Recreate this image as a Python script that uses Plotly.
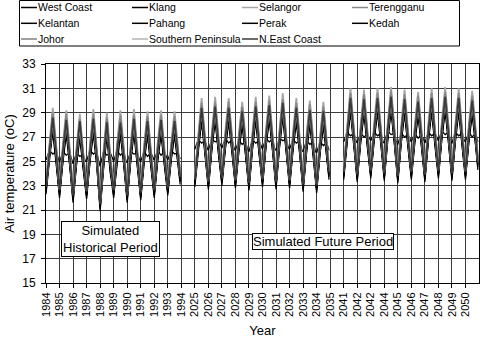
import plotly.graph_objects as go

# ---------------- data ----------------
YEAR_LABELS = ["1984", "1985", "1986", "1987", "1988", "1989", "1990", "1991", "1992", "1993", "1994",
               "2025", "2026", "2027", "2028", "2029", "2030", "2031", "2032", "2033", "2034", "2035",
               "2041", "2042", "2042", "2044", "2045", "2046", "2047", "2048", "2049", "2050"]
SEGMENT_FIRST_YEAR = ["1984", "2025", "2041"]
YEARS_PER_SEGMENT = 10
SAMPLE_MONTHS = [0, 3, 6, 9, 11]  # Jan, Apr, Jul, Oct, Dec

SERIES_NAMES = ["West Coast", "Klang", "Selangor", "Terengganu", "Kelantan", "Pahang",
                "Perak", "Kedah", "Johor", "Southern Peninsula", "N.East Coast"]
SERIES_COLORS = ["#000000", "#000000", "#a6a6a6", "#8a8a8a", "#000000", "#000000",
                 "#000000", "#000000", "#808080", "#b4b4b4", "#3a3a3a"]

WEST_COAST = [
    22.6, 25.7, 28.1, 25.4, 23.2, 22.3, 25.4, 27.9, 25.1, 22.8,
    21.9, 25.1, 27.6, 24.8, 23.1, 22.2, 25.4, 28.0, 25.1, 22.1,
    21.2, 24.8, 27.7, 24.5, 23.2, 22.3, 25.4, 27.9, 25.1, 22.8,
    21.9, 25.3, 28.0, 25.0, 23.0, 22.1, 25.3, 27.8, 25.0, 23.2,
    22.3, 25.4, 27.9, 25.1, 23.4, 22.5, 25.5, 27.8, 25.2, 23.4,
    23.2, 26.4, 28.9, 26.1, 23.9, 23.0, 26.3, 29.0, 26.0, 24.2,
    23.3, 26.4, 28.9, 26.1, 24.0, 23.1, 26.2, 28.6, 25.9, 23.8,
    22.9, 26.3, 29.0, 26.0, 24.1, 23.2, 26.5, 29.1, 26.2, 23.9,
    23.0, 26.5, 29.3, 26.2, 24.0, 23.1, 26.3, 28.9, 26.0, 23.7,
    22.8, 26.1, 28.7, 25.8, 23.6, 22.7, 26.0, 28.6, 25.7, 23.8,
    23.8, 27.1, 29.7, 26.8, 24.5, 23.6, 26.9, 29.6, 26.6, 24.8,
    23.9, 27.1, 29.7, 26.8, 24.6, 23.7, 27.1, 29.8, 26.8, 24.4,
    23.5, 26.9, 29.6, 26.6, 24.7, 23.8, 26.9, 29.4, 26.6, 24.5,
    23.6, 27.0, 29.7, 26.7, 24.8, 23.9, 27.2, 29.8, 26.9, 24.6,
    23.7, 27.0, 29.7, 26.7, 24.7, 23.8, 27.0, 29.5, 26.7, 24.6,
]
KLANG = [
    22.3, 25.3, 27.7, 25.0, 22.9, 22.0, 25.0, 27.5, 24.7, 22.5,
    21.6, 24.7, 27.2, 24.4, 22.8, 21.9, 25.0, 27.6, 24.7, 21.8,
    20.9, 24.4, 27.3, 24.1, 22.9, 22.0, 25.0, 27.5, 24.7, 22.5,
    21.6, 24.9, 27.6, 24.6, 22.7, 21.8, 24.9, 27.4, 24.6, 22.9,
    22.0, 25.0, 27.5, 24.7, 23.1, 22.2, 25.1, 27.4, 24.8, 23.1,
    22.9, 26.0, 28.5, 25.7, 23.6, 22.7, 25.9, 28.6, 25.6, 23.9,
    23.0, 26.0, 28.5, 25.7, 23.7, 22.8, 25.8, 28.2, 25.5, 23.5,
    22.6, 25.9, 28.6, 25.6, 23.8, 22.9, 26.1, 28.7, 25.8, 23.6,
    22.7, 26.1, 28.9, 25.8, 23.7, 22.8, 25.9, 28.5, 25.6, 23.4,
    22.5, 25.7, 28.3, 25.4, 23.3, 22.4, 25.6, 28.2, 25.3, 23.5,
    23.5, 26.7, 29.3, 26.4, 24.2, 23.3, 26.5, 29.2, 26.2, 24.5,
    23.6, 26.7, 29.3, 26.4, 24.3, 23.4, 26.7, 29.4, 26.4, 24.1,
    23.2, 26.5, 29.2, 26.2, 24.4, 23.5, 26.5, 29.0, 26.2, 24.2,
    23.3, 26.6, 29.3, 26.3, 24.5, 23.6, 26.8, 29.4, 26.5, 24.3,
    23.4, 26.6, 29.3, 26.3, 24.4, 23.5, 26.6, 29.1, 26.3, 24.3,
]
SELANGOR = [
    23.3, 26.7, 29.4, 26.4, 23.9, 23.0, 26.4, 29.2, 26.1, 23.5,
    22.6, 26.1, 28.9, 25.8, 23.8, 22.9, 26.4, 29.3, 26.1, 22.8,
    21.9, 25.8, 29.0, 25.5, 23.9, 23.0, 26.4, 29.2, 26.1, 23.5,
    22.6, 26.3, 29.3, 26.0, 23.7, 22.8, 26.3, 29.1, 26.0, 23.9,
    23.0, 26.4, 29.2, 26.1, 24.1, 23.2, 26.5, 29.1, 26.2, 24.1,
    23.9, 27.4, 30.2, 27.1, 24.6, 23.7, 27.3, 30.3, 27.0, 24.9,
    24.0, 27.4, 30.2, 27.1, 24.7, 23.8, 27.2, 29.9, 26.9, 24.5,
    23.6, 27.3, 30.3, 27.0, 24.8, 23.9, 27.5, 30.4, 27.2, 24.6,
    23.7, 27.5, 30.6, 27.2, 24.7, 23.8, 27.3, 30.2, 27.0, 24.4,
    23.5, 27.1, 30.0, 26.8, 24.3, 23.4, 27.0, 29.9, 26.7, 24.5,
    24.5, 28.1, 31.0, 27.8, 25.2, 24.3, 27.9, 30.9, 27.6, 25.5,
    24.6, 28.1, 31.0, 27.8, 25.3, 24.4, 28.1, 31.1, 27.8, 25.1,
    24.2, 27.9, 30.9, 27.6, 25.4, 24.5, 27.9, 30.7, 27.6, 25.2,
    24.3, 28.0, 31.0, 27.7, 25.5, 24.6, 28.2, 31.1, 27.9, 25.3,
    24.4, 28.0, 31.0, 27.7, 25.4, 24.5, 28.0, 30.8, 27.7, 25.3,
]
TERENGGANU = [
    23.1, 26.4, 29.0, 26.1, 23.7, 22.8, 26.1, 28.9, 25.8, 23.3,
    22.4, 25.8, 28.5, 25.5, 23.6, 22.7, 26.1, 28.9, 25.8, 22.6,
    21.9, 25.5, 28.6, 25.2, 23.7, 22.8, 26.1, 28.8, 25.8, 23.3,
    22.4, 26.0, 28.8, 25.7, 23.5, 22.6, 26.0, 28.7, 25.7, 23.7,
    22.8, 26.3, 28.8, 25.8, 23.9, 23.0, 26.2, 28.7, 25.9, 23.9,
    23.7, 27.1, 29.8, 26.8, 24.4, 23.5, 27.0, 29.9, 26.7, 24.7,
    23.8, 27.1, 29.9, 26.8, 24.5, 23.6, 26.9, 29.5, 26.6, 24.3,
    23.4, 27.0, 29.9, 26.7, 24.6, 23.7, 27.2, 30.0, 26.9, 24.4,
    23.5, 27.2, 30.1, 26.9, 24.5, 23.6, 27.0, 29.8, 26.7, 24.2,
    23.3, 26.8, 29.7, 26.5, 24.1, 23.2, 26.7, 29.5, 26.4, 24.3,
    24.3, 27.8, 30.6, 27.5, 25.0, 24.1, 27.6, 30.5, 27.3, 25.3,
    24.4, 27.8, 30.6, 27.5, 25.1, 24.2, 27.8, 30.8, 27.5, 24.9,
    24.0, 27.6, 30.5, 27.3, 25.2, 24.3, 27.6, 30.4, 27.3, 25.0,
    24.1, 27.7, 30.6, 27.4, 25.3, 24.4, 27.9, 30.7, 27.6, 25.1,
    24.2, 27.7, 30.6, 27.4, 25.2, 24.3, 27.7, 30.4, 27.4, 25.1,
]
KELANTAN = [
    22.8, 26.0, 28.2, 25.7, 23.4, 22.5, 25.7, 28.0, 25.4, 23.0,
    22.1, 25.4, 27.7, 25.1, 23.3, 22.4, 25.7, 28.1, 25.4, 22.3,
    21.4, 25.1, 27.8, 24.8, 23.4, 22.5, 25.7, 28.0, 25.4, 23.0,
    22.1, 25.6, 28.1, 25.3, 23.2, 22.3, 25.6, 27.9, 25.3, 23.4,
    22.5, 25.7, 28.0, 25.4, 23.6, 22.7, 25.8, 27.9, 25.5, 23.6,
    23.4, 26.7, 29.0, 26.4, 24.1, 23.2, 26.6, 29.1, 26.3, 24.4,
    23.5, 26.7, 29.0, 26.4, 24.2, 23.3, 26.5, 28.7, 26.2, 24.0,
    23.1, 26.6, 29.1, 26.3, 24.3, 23.4, 26.8, 29.2, 26.5, 24.1,
    23.2, 26.8, 29.4, 26.5, 24.2, 23.3, 26.6, 29.0, 26.3, 23.9,
    23.0, 26.4, 28.8, 26.1, 23.8, 22.9, 26.3, 28.7, 26.0, 24.0,
    24.0, 27.4, 29.8, 27.1, 24.7, 23.8, 27.2, 29.7, 26.9, 25.0,
    24.1, 27.4, 29.8, 27.1, 24.8, 23.9, 27.4, 29.9, 27.1, 24.6,
    23.7, 27.2, 29.7, 26.9, 24.9, 24.0, 27.2, 29.5, 26.9, 24.7,
    23.8, 27.3, 29.8, 27.0, 25.0, 24.1, 27.5, 29.9, 27.2, 24.8,
    23.9, 27.3, 29.8, 27.0, 24.9, 24.0, 27.3, 29.6, 27.0, 24.8,
]
PAHANG = [
    22.5, 25.3, 27.4, 25.0, 23.1, 22.2, 25.0, 27.2, 24.7, 22.7,
    21.8, 24.7, 26.9, 24.4, 23.0, 22.1, 25.0, 27.3, 24.7, 22.0,
    21.1, 24.4, 27.0, 24.1, 23.1, 22.2, 25.0, 27.2, 24.7, 22.7,
    21.8, 24.9, 27.3, 24.6, 22.9, 22.0, 24.9, 27.1, 24.6, 23.1,
    22.2, 25.0, 27.2, 24.7, 23.3, 22.4, 25.1, 27.1, 24.8, 23.3,
    23.1, 26.0, 28.2, 25.7, 23.8, 22.9, 25.9, 28.3, 25.6, 24.1,
    23.2, 26.0, 28.2, 25.7, 23.9, 23.0, 25.8, 27.9, 25.5, 23.7,
    22.8, 25.9, 28.3, 25.6, 24.0, 23.1, 26.1, 28.4, 25.8, 23.8,
    22.9, 26.1, 28.6, 25.8, 23.9, 23.0, 25.9, 28.2, 25.6, 23.6,
    22.7, 25.7, 28.0, 25.4, 23.5, 22.6, 25.6, 27.9, 25.3, 23.7,
    23.7, 26.7, 29.0, 26.4, 24.4, 23.5, 26.5, 28.9, 26.2, 24.7,
    23.8, 26.7, 29.0, 26.4, 24.5, 23.6, 26.7, 29.1, 26.4, 24.3,
    23.4, 26.5, 28.9, 26.2, 24.6, 23.7, 26.5, 28.7, 26.2, 24.4,
    23.5, 26.6, 29.0, 26.3, 24.7, 23.8, 26.8, 29.1, 26.5, 24.5,
    23.6, 26.6, 29.0, 26.3, 24.6, 23.7, 26.6, 28.8, 26.3, 24.5,
]
PERAK = [
    22.7, 25.6, 27.9, 25.3, 23.3, 22.4, 25.4, 27.7, 25.1, 22.9,
    22.0, 25.0, 27.4, 24.7, 23.2, 22.3, 25.4, 27.8, 25.1, 22.2,
    21.3, 24.8, 27.5, 24.5, 23.3, 22.4, 25.4, 27.7, 25.1, 22.9,
    22.0, 25.3, 27.8, 25.0, 23.1, 22.2, 25.3, 27.6, 25.0, 23.3,
    22.4, 25.4, 27.7, 25.1, 23.5, 22.6, 25.5, 27.6, 25.2, 23.5,
    23.3, 26.4, 28.7, 26.1, 24.0, 23.1, 26.3, 28.8, 26.0, 24.3,
    23.4, 26.4, 28.7, 26.1, 24.1, 23.2, 26.2, 28.4, 25.9, 23.9,
    23.0, 26.3, 28.8, 26.0, 24.2, 23.3, 26.5, 28.9, 26.2, 24.0,
    23.1, 26.5, 29.1, 26.2, 24.1, 23.2, 26.3, 28.7, 26.0, 23.8,
    22.9, 26.1, 28.5, 25.8, 23.7, 22.8, 26.0, 28.4, 25.7, 23.9,
    23.9, 27.1, 29.5, 26.8, 24.6, 23.7, 26.9, 29.4, 26.6, 24.9,
    24.0, 27.1, 29.5, 26.8, 24.7, 23.8, 27.1, 29.6, 26.8, 24.5,
    23.6, 26.9, 29.4, 26.6, 24.8, 23.9, 26.9, 29.2, 26.6, 24.6,
    23.7, 27.0, 29.5, 26.7, 24.9, 24.0, 27.2, 29.6, 26.9, 24.7,
    23.8, 27.0, 29.5, 26.7, 24.8, 23.9, 27.0, 29.3, 26.7, 24.7,
]
KEDAH = [
    25.1, 25.9, 25.6, 25.8, 25.2, 24.9, 25.8, 25.5, 25.7, 25.1,
    24.8, 25.7, 25.4, 25.6, 25.0, 25.0, 25.9, 25.6, 25.8, 24.9,
    24.6, 25.8, 25.5, 25.7, 25.1, 25.0, 25.9, 25.5, 25.8, 25.0,
    24.9, 25.8, 25.6, 25.7, 25.1, 25.0, 25.8, 25.4, 25.7, 25.2,
    25.1, 25.9, 25.5, 25.8, 25.2, 25.1, 25.9, 25.6, 25.7, 25.2,
    26.0, 26.8, 26.5, 26.7, 26.1, 25.9, 26.8, 26.6, 26.7, 26.2,
    26.1, 26.9, 26.5, 26.8, 26.0, 25.9, 26.7, 26.4, 26.6, 25.9,
    25.8, 26.8, 26.5, 26.7, 26.1, 26.0, 26.9, 26.6, 26.8, 26.0,
    25.9, 26.9, 26.7, 26.8, 26.1, 26.0, 26.8, 26.5, 26.7, 25.9,
    25.8, 26.7, 26.4, 26.6, 25.8, 25.7, 26.6, 26.3, 26.5, 25.9,
    26.6, 27.4, 27.1, 27.3, 26.7, 26.5, 27.3, 27.0, 27.2, 26.8,
    26.7, 27.4, 27.1, 27.3, 26.6, 26.5, 27.5, 27.2, 27.3, 26.5,
    26.4, 27.3, 27.0, 27.2, 26.7, 26.6, 27.3, 26.9, 27.2, 26.6,
    26.5, 27.4, 27.1, 27.3, 26.8, 26.7, 27.5, 27.2, 27.4, 26.6,
    26.5, 27.4, 27.1, 27.3, 26.7, 26.6, 27.4, 27.0, 27.3, 26.6,
]
JOHOR = [
    23.2, 26.3, 28.8, 26.0, 23.8, 22.9, 26.0, 28.5, 25.7, 23.4,
    22.5, 25.7, 28.2, 25.4, 23.7, 22.8, 26.0, 28.6, 25.7, 22.7,
    21.8, 25.4, 28.4, 25.1, 23.8, 22.9, 26.0, 28.5, 25.7, 23.4,
    22.5, 25.9, 28.6, 25.6, 23.6, 22.7, 25.9, 28.6, 25.6, 23.8,
    22.9, 26.0, 28.5, 25.7, 24.0, 23.1, 26.1, 28.4, 25.8, 24.0,
    23.8, 27.0, 29.5, 26.7, 24.5, 23.6, 26.9, 29.6, 26.6, 24.8,
    23.9, 27.0, 29.5, 26.7, 24.6, 23.7, 26.8, 29.4, 26.5, 24.4,
    23.5, 26.9, 29.6, 26.6, 24.7, 23.8, 27.1, 29.7, 26.8, 24.5,
    23.6, 27.1, 29.9, 26.8, 24.6, 23.7, 26.9, 29.5, 26.6, 24.3,
    23.4, 26.7, 29.3, 26.4, 24.2, 23.3, 26.6, 29.3, 26.3, 24.4,
    24.4, 27.7, 30.3, 27.4, 25.1, 24.2, 27.5, 30.4, 27.2, 25.4,
    24.5, 27.7, 30.3, 27.4, 25.2, 24.3, 27.7, 30.4, 27.4, 25.0,
    24.1, 27.5, 30.2, 27.2, 25.3, 24.4, 27.5, 30.0, 27.2, 25.1,
    24.2, 27.6, 30.2, 27.3, 25.4, 24.5, 27.8, 30.4, 27.5, 25.2,
    24.3, 27.6, 30.3, 27.3, 25.3, 24.4, 27.6, 30.1, 27.3, 25.2,
]
SOUTHERN_PENINSULA = [
    23.0, 26.0, 28.4, 25.8, 23.6, 22.7, 25.8, 28.2, 25.5, 23.2,
    22.3, 25.5, 27.9, 25.2, 23.5, 22.6, 25.8, 28.3, 25.5, 22.5,
    21.6, 25.2, 28.0, 24.9, 23.6, 22.7, 25.8, 28.2, 25.5, 23.2,
    22.3, 25.7, 28.3, 25.4, 23.4, 22.5, 25.7, 28.1, 25.4, 23.6,
    22.7, 25.8, 28.2, 25.5, 23.8, 22.9, 25.9, 28.1, 25.6, 23.8,
    23.6, 26.8, 29.2, 26.5, 24.3, 23.4, 26.7, 29.3, 26.4, 24.6,
    23.7, 26.8, 29.2, 26.5, 24.4, 23.5, 26.6, 28.9, 26.3, 24.2,
    23.3, 26.7, 29.3, 26.4, 24.5, 23.6, 26.9, 29.4, 26.6, 24.3,
    23.4, 26.9, 29.6, 26.6, 24.4, 23.5, 26.7, 29.2, 26.4, 24.1,
    23.2, 26.5, 29.0, 26.2, 24.0, 23.1, 26.4, 28.9, 26.1, 24.2,
    24.2, 27.5, 30.0, 27.2, 24.9, 24.0, 27.3, 29.9, 27.0, 25.2,
    24.3, 27.5, 30.0, 27.2, 25.0, 24.1, 27.5, 30.1, 27.2, 24.8,
    23.9, 27.3, 29.9, 27.0, 25.1, 24.2, 27.3, 29.7, 27.0, 24.9,
    24.0, 27.4, 30.0, 27.1, 25.2, 24.3, 27.6, 30.1, 27.3, 25.0,
    24.1, 27.4, 30.0, 27.1, 25.1, 24.2, 27.4, 29.8, 27.1, 25.0,
]
NEAST_COAST = [
    22.9, 26.1, 28.6, 25.8, 23.5, 22.6, 25.8, 28.4, 25.5, 23.1,
    22.2, 25.5, 28.3, 25.2, 23.4, 22.5, 25.8, 28.5, 25.5, 22.4,
    21.5, 25.2, 28.2, 24.9, 23.5, 22.6, 25.8, 28.2, 25.5, 23.1,
    22.2, 25.7, 28.5, 25.4, 23.3, 22.4, 25.7, 28.3, 25.4, 23.5,
    22.6, 25.8, 28.4, 25.5, 23.7, 22.8, 25.9, 28.3, 25.6, 23.7,
    23.5, 26.8, 29.4, 26.5, 24.2, 23.3, 26.7, 29.5, 26.4, 24.5,
    23.6, 26.8, 29.4, 26.5, 24.3, 23.4, 26.6, 29.1, 26.3, 24.1,
    23.2, 26.7, 29.5, 26.4, 24.4, 23.5, 26.9, 29.6, 26.6, 24.2,
    23.3, 26.9, 29.8, 26.6, 24.3, 23.4, 26.7, 29.4, 26.4, 24.0,
    23.1, 26.5, 29.2, 26.2, 23.9, 23.0, 26.4, 29.1, 26.1, 24.1,
    24.1, 27.5, 30.2, 27.2, 24.8, 23.9, 27.3, 30.1, 27.0, 25.1,
    24.2, 27.5, 30.2, 27.2, 24.9, 24.0, 27.5, 30.3, 27.2, 24.7,
    23.8, 27.3, 30.1, 27.0, 25.0, 24.1, 27.3, 29.9, 27.0, 24.8,
    23.9, 27.4, 30.2, 27.1, 25.1, 24.2, 27.6, 30.3, 27.3, 24.9,
    24.0, 27.4, 30.2, 27.1, 25.0, 24.1, 27.4, 30.0, 27.1, 24.9,
]

SERIES_VALUES = [WEST_COAST, KLANG, SELANGOR, TERENGGANU, KELANTAN, PAHANG,
                 PERAK, KEDAH, JOHOR, SOUTHERN_PENINSULA, NEAST_COAST]

Y_TICKS = [15, 17, 19, 21, 23, 25, 27, 29, 31, 33]

# ---------------- geometry helpers ----------------
W, H = 480, 338
ML, MR, MT, MB = 46, 1, 64, 55
PW, PH = W - ML - MR, H - MT - MB
FONT = "Liberation Sans, Arial, sans-serif"


def px(xpix):
    return (xpix - ML) / PW


def py(ypix):
    return (H - MB - ypix) / PH


seg_starts = [YEAR_LABELS.index(y) for y in SEGMENT_FIRST_YEAR]
n_per_year = len(SAMPLE_MONTHS)

fig = go.Figure()
# draw dark series first so the grey ones form the outer band, as in the original
order = sorted(range(len(SERIES_NAMES)), key=lambda i: SERIES_COLORS[i] != "#000000")
for i in order:
    name, color, vals = SERIES_NAMES[i], SERIES_COLORS[i], SERIES_VALUES[i]
    xs, ys = [], []
    for s, start in enumerate(seg_starts):
        for j in range(YEARS_PER_SEGMENT):
            for q, m in enumerate(SAMPLE_MONTHS):
                k = (s * YEARS_PER_SEGMENT + j) * n_per_year + q
                xs.append(start + j + m / 12.0)
                ys.append(vals[k])
        xs.append(None)
        ys.append(None)
    width = 1.3 if color == "#000000" else 1.8
    fig.add_trace(go.Scatter(x=xs, y=ys, mode="lines", name=name,
                             line=dict(color=color, width=width),
                             showlegend=False, hoverinfo="skip"))

grid = "#3c3c3c"
fig.update_layout(
    template="none",
    width=W, height=H,
    margin=dict(l=ML, r=MR, t=MT, b=MB, pad=0, autoexpand=False),
    paper_bgcolor="white", plot_bgcolor="white",
    font=dict(family=FONT, color="black", size=12),
    showlegend=False,
    xaxis=dict(range=[0, len(YEAR_LABELS)],
               tickmode="array", tickvals=list(range(len(YEAR_LABELS))), ticktext=YEAR_LABELS,
               tickangle=-90, tickfont=dict(size=11),
               showgrid=True, gridcolor=grid, gridwidth=1, layer="below traces",
               showline=True, linecolor="black", linewidth=1, mirror=True,
               ticks="outside", ticklen=4, tickcolor="black",
               zeroline=False, automargin=False,
               title=dict(text="Year", font=dict(size=13), standoff=12)),
    yaxis=dict(range=[15, 33], tickmode="array", tickvals=Y_TICKS,
               tickfont=dict(size=12), ticklabelstandoff=3,
               showgrid=True, gridcolor=grid, gridwidth=1, layer="below traces",
               showline=True, linecolor="black", linewidth=1, mirror=True,
               ticks="outside", ticklen=4, tickcolor="black",
               zeroline=False, automargin=False,
               title=dict(text="Air temperature (oC)", font=dict(size=13), standoff=4)),
)

# period labels
fig.add_annotation(x=4.76, y=18.58, xref="x", yref="y", text="Simulated<br>Historical Period",
                   showarrow=False, font=dict(size=13), bgcolor="white",
                   bordercolor="black", borderwidth=1, borderpad=1)
fig.add_annotation(x=20.46, y=18.45, xref="x", yref="y", text="Simulated Future Period",
                   showarrow=False, font=dict(size=13), bgcolor="white",
                   bordercolor="black", borderwidth=1, borderpad=0)

# legend (drawn manually to match the compact original layout)
fig.add_shape(type="rect", xref="paper", yref="paper",
              x0=px(19.5), x1=px(459.5), y0=py(46), y1=py(0.5),
              line=dict(color="black", width=1), fillcolor="white", layer="above")
col_x = [21, 132, 242, 352]
row_y = [7.5, 23.3, 39.0]
for i, (name, color) in enumerate(zip(SERIES_NAMES, SERIES_COLORS)):
    r, c = divmod(i, 4)
    x0 = col_x[c]
    yy = py(row_y[r])
    fig.add_shape(type="line", xref="paper", yref="paper",
                  x0=px(x0), x1=px(x0 + 16), y0=yy, y1=yy,
                  line=dict(color=color, width=1.5), layer="above")
    fig.add_annotation(x=px(x0 + 16), y=yy, xref="paper", yref="paper", text=name,
                       showarrow=False, xanchor="left", yanchor="middle",
                       font=dict(size=10.5), borderpad=0)

# remove the browser's default page margin so the 480x338 figure fills the window
fig.write_html("out.html",
               config={"displayModeBar": False, "staticPlot": True},
               post_script="document.body.style.margin='0';document.body.style.padding='0';")
